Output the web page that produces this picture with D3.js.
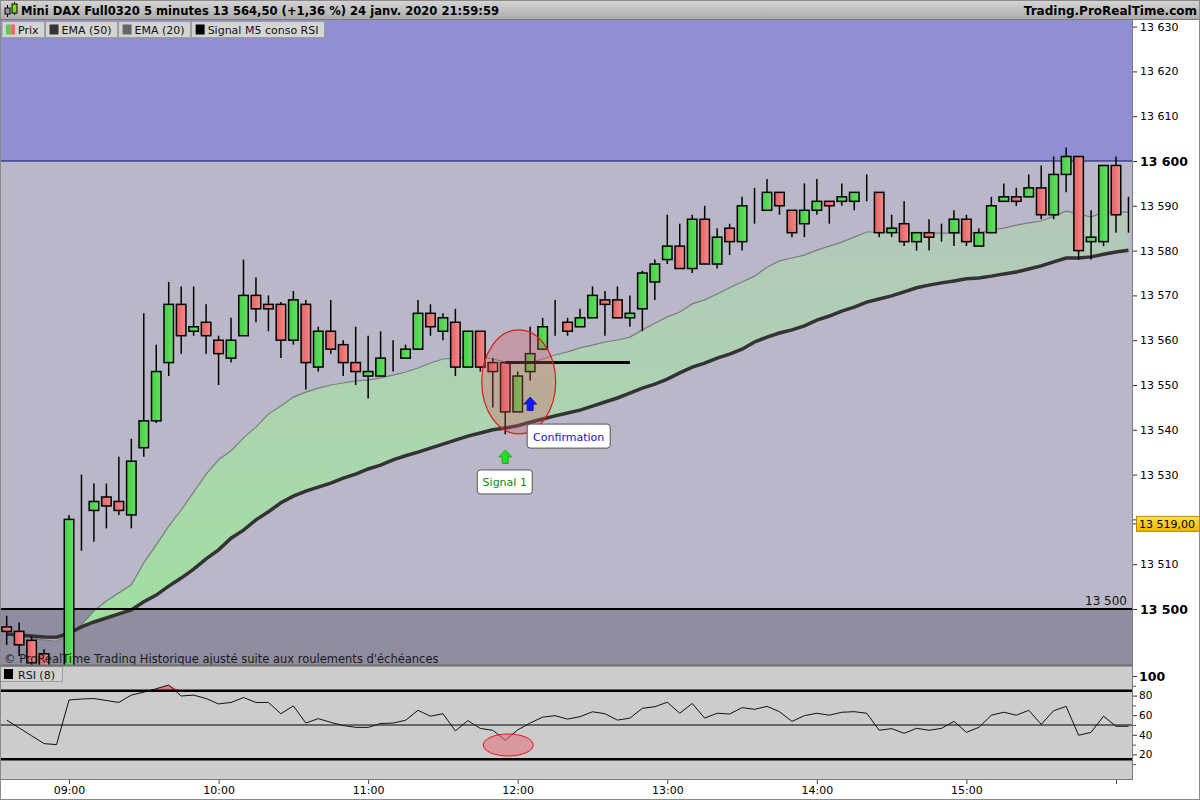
<!DOCTYPE html>
<html>
<head>
<meta charset="utf-8">
<script src="https://cdn.jsdelivr.net/npm/d3@7/dist/d3.min.js"></script>
<style>
  body { margin: 0; background: #fff; }
  svg { display: block; font-family: "DejaVu Sans", sans-serif; }
</style>
</head>
<body>
<div class="chart"></div>
<script>
// Data (5 minute candles, 08:35 -> 16:05)
//= ================================
var firstCandle = new Date(2020, 0, 24, 8, 35);
var lastCandle = new Date(2020, 0, 24, 16, 5);

var opens = [13496, 13495, 13493, 13490, 13486, 13480, 13520, 13522, 13525, 13524,
  13521, 13536, 13542, 13555, 13568, 13562, 13564, 13560, 13556, 13561,
  13570, 13568, 13568, 13560, 13568, 13554, 13562, 13559, 13555, 13552,
  13552, 13556, 13556, 13558, 13566, 13562, 13564, 13554, 13562, 13555,
  13555, 13544, 13553, 13558, 13565, 13564, 13563, 13565, 13569, 13569,
  13565, 13567, 13573, 13578, 13581, 13576, 13587, 13577, 13585, 13582,
  13589, 13589, 13593, 13589, 13586, 13589, 13591, 13591, 13591, 13592,
  13593, 13584, 13586, 13582, 13584, 13584, 13584, 13587, 13581, 13584,
  13591, 13592, 13592, 13594, 13588, 13597, 13601, 13582, 13582, 13599, 13588];
var highs = [13498.5, 13497, 13494, 13491, 13487, 13521, 13530, 13528, 13528, 13534,
  13538, 13566, 13559, 13573, 13572, 13572, 13568, 13561, 13565, 13578,
  13574, 13570, 13568.5, 13571, 13569, 13563, 13569, 13560, 13563, 13561,
  13562, 13560, 13559, 13569, 13568, 13566, 13567, 13562, 13562, 13556,
  13555, 13553, 13563, 13565, 13569, 13565, 13567, 13572, 13571, 13572,
  13570, 13575.5, 13578, 13588, 13586, 13588, 13590, 13585, 13586, 13592,
  13594, 13596, 13593, 13589, 13595, 13596, 13591, 13595, 13593, 13597,
  13593, 13588, 13591, 13584, 13587, 13586, 13589, 13588, 13585, 13592,
  13595, 13594, 13597, 13599, 13601, 13603, 13601, 13589, 13599, 13601, 13592];
var lows = [13492, 13489.5, 13486, 13484, 13478, 13476, 13513, 13515, 13518, 13521,
  13518, 13534, 13541.5, 13552, 13557, 13561, 13557, 13550, 13555, 13561,
  13564, 13562, 13556, 13559, 13549, 13553, 13557, 13552, 13550, 13547,
  13552, 13553, 13556, 13558, 13561, 13560, 13552, 13554, 13553, 13545,
  13539, 13544, 13551, 13558, 13561, 13561, 13563, 13565, 13561, 13565,
  13563, 13562, 13569, 13577, 13576, 13575, 13577, 13576, 13579, 13580,
  13586, 13589, 13588, 13583, 13583, 13588, 13586, 13590, 13589, 13591,
  13583, 13583, 13581, 13580, 13580, 13582, 13581, 13581, 13581, 13584,
  13591, 13590, 13592, 13587, 13587, 13593, 13578, 13578, 13581, 13584, 13584];
var closes = [13495, 13492, 13488, 13486, 13480, 13520, 13520, 13524, 13523, 13522,
  13533, 13542, 13553, 13568, 13561, 13563, 13561, 13557, 13560, 13570,
  13567, 13567, 13560, 13569, 13555, 13562, 13558, 13555, 13553, 13553,
  13556, 13556, 13558, 13566, 13563, 13565, 13554, 13562, 13554, 13553,
  13544, 13552, 13557, 13563, 13565, 13562, 13565, 13570, 13568, 13565,
  13566, 13575, 13577, 13581, 13576, 13587, 13577, 13583, 13582, 13590,
  13589, 13593, 13590, 13584, 13589, 13591, 13590, 13592, 13593, 13592,
  13584, 13585, 13582, 13584, 13583, 13584, 13587, 13582, 13584, 13590,
  13592, 13591, 13594, 13588, 13597, 13601, 13580, 13583, 13599, 13588, 13588];

var ema50 = [13494.4, 13494.2, 13494.0, 13493.75, 13493.7, 13494.6, 13496.0, 13497.1, 13498.0, 13498.9,
  13499.8, 13501.6, 13503.1, 13505.1, 13506.9, 13508.9, 13511.2, 13513.2, 13515.8, 13517.6,
  13519.9, 13521.7, 13523.7, 13525.2, 13526.3, 13527.2, 13528.1, 13529.2, 13530.1, 13531.25,
  13532.1, 13533.3, 13534.2, 13535.0, 13535.9, 13536.8, 13537.7, 13538.6, 13539.3, 13540.0,
  13540.4, 13540.9, 13541.7, 13542.4, 13543.1, 13543.75, 13544.4, 13545.3, 13546.2, 13547.1,
  13548.2, 13549.3, 13550.2, 13551.3, 13552.7, 13554.0, 13554.9, 13556.0, 13556.9, 13558.0,
  13559.6, 13560.7, 13561.6, 13562.3, 13563.2, 13564.5, 13565.4, 13566.5, 13567.4, 13568.5,
  13569.2, 13569.9, 13570.8, 13571.7, 13572.3, 13572.8, 13573.2, 13573.7, 13573.9, 13574.3,
  13574.8, 13575.2, 13575.9, 13576.6, 13577.5, 13578.35, 13578.35, 13578.6, 13579.2, 13579.7, 13580.1];
var ema20 = [13494.6, 13494.2, 13493.5, 13493.1, 13492.8, 13494.4, 13496.4, 13499.6, 13501.8, 13503.6,
  13505.4, 13510.3, 13514.3, 13518.5, 13522.1, 13526.1, 13530.1, 13533.3, 13535.3, 13538.2,
  13540.6, 13543.5, 13545.3, 13547.3, 13548.4, 13549.3, 13550.0, 13550.45, 13550.9, 13551.1,
  13551.6, 13552.2, 13552.9, 13553.8, 13554.9, 13555.8, 13556.0, 13556.25, 13556.25, 13555.8,
  13555.1, 13554.9, 13554.9, 13555.8, 13556.7, 13557.4, 13558.3, 13558.9, 13559.6, 13560.05,
  13560.7, 13562.3, 13563.8, 13565.2, 13566.3, 13568.1, 13569.0, 13570.3, 13571.7, 13573.0,
  13574.3, 13576.3, 13577.7, 13578.35, 13579.0, 13580.1, 13581.0, 13581.9, 13583.0, 13584.15,
  13584.15, 13584.15, 13583.9, 13583.9, 13583.9, 13583.9, 13583.9, 13583.9, 13583.9, 13584.6,
  13585.0, 13585.7, 13586.2, 13586.6, 13587.7, 13588.8, 13588.2, 13587.5, 13588.6, 13588.6, 13588.6];
var rsi = [55, 47, 39, 31, 30, 75.5, 76.5, 77, 75, 73,
  80.5, 83.5, 87, 90.8, 79.6, 80.5, 77, 71.5, 73, 78,
  73, 73, 61.5, 69.5, 52, 56.5, 52.7, 49.5, 47.6, 47.6,
  51.5, 52, 54.8, 65, 59, 61.5, 44, 54.5, 46.5, 44.6,
  34.5, 45, 52, 58, 59.5, 56, 58.5, 63.5, 61.5, 55,
  57, 67, 68.7, 73.2, 62, 72, 57, 62, 61.2, 67.7,
  66, 69, 63.6, 53.7, 59.5, 62, 60, 63, 63.6, 62,
  44.6, 46.3, 41.5, 46.6, 44.6, 46.6, 53.7, 42.5, 47.6, 60,
  63, 60, 65, 50.7, 64.6, 69, 39.5, 42.5, 59, 48.7, 48.7];

var priceTicks = [13500, 13510, 13520, 13530, 13540, 13550, 13560, 13570, 13580, 13590, 13600, 13610, 13620, 13630];
var boldPrices = [13500, 13600];
var hiddenPriceLabel = 13520;           // sits under the last-price tag
var rsiTicks = [20, 40, 60, 80, 100];
var rsiLevels = [15, 50, 85];
var lastPrice = 13519;
var signalLevel = 13555;
var signalFrom = 40, signalTo = 50;     // candle indices (11:55 -> 12:45) of the black signal line
var signalCandle = 40, confirmCandle = 42;
var legendItems = ["Prix", "EMA (50)", "EMA (20)", "Signal M5 conso RSI"];
var legendColors = [null, "#333", "#666", "#000"];

var titleText = "Mini DAX Full0320 5 minutes 13 564,50 (+1,36 %) 24 janv. 2020 21:59:59";
var copyrightText = "\u00a9 ProRealTime Trading Historique ajust\u00e9 suite aux roulements d'\u00e9ch\u00e9ances";

// Step 0: Set up the chart
//= ================================
var svgWidth = 1200;
var svgHeight = 800;
var plotRight = 1132;
var mainTop = 20, mainBottom = 665;
var rsiTop = 666, rsiBottom = 779;

var times = d3.timeMinute.every(5).range(firstCandle, d3.timeMinute.offset(lastCandle, 1));
var candles = times.map(function(t, i) {
  return { t: t, o: opens[i], h: highs[i], l: lows[i], c: closes[i], e50: ema50[i], e20: ema20[i], rsi: rsi[i] };
});

var fr = d3.formatLocale({ decimal: ",", thousands: " ", grouping: [3], currency: ["", ""] });
var fmtPrice = fr.format(",");
var fmtLast = fr.format(",.2f");

var x = d3.scaleTime()
  .domain([new Date(2020, 0, 24, 9, 0), new Date(2020, 0, 24, 16, 0)])
  .range([69, 1116]);
var y = d3.scaleLinear().domain([13500, 13600]).range([609, 161]);
var yRsi = d3.scaleLinear().domain([0, 100]).range([774, 676]);

var svg = d3.select(".chart")
  .append("svg")
  .attr("width", svgWidth)
  .attr("height", svgHeight);

var defs = svg.append("defs");

function grad(id, stops, x2, y2) {
  var g = defs.append("linearGradient").attr("id", id)
    .attr("x1", 0).attr("y1", 0).attr("x2", x2).attr("y2", y2);
  stops.forEach(function(s) {
    g.append("stop").attr("offset", s[0]).attr("stop-color", s[1]);
  });
}
grad("hdr", [[0, "#d6d6d6"], [1, "#a9a9a9"]], 0, 1);
grad("gBody", [[0, "#44cf44"], [1, "#66e066"]], 1, 0);
grad("rBody", [[0, "#e46262"], [1, "#f28c8c"]], 1, 0);
grad("gold", [[0, "#ffe14a"], [1, "#f0b400"]], 0, 1);
defs.append("linearGradient").attr("id", "band")
  .attr("gradientUnits", "userSpaceOnUse")
  .attr("x1", 0).attr("y1", 640).attr("x2", 0).attr("y2", 220)
  .selectAll("stop")
  .data([[0, "#9ee09e"], [0.45, "#aad6ae"], [1, "#b4c8ba"]])
  .enter().append("stop")
  .attr("offset", function(d) { return d[0]; })
  .attr("stop-color", function(d) { return d[1]; });

defs.append("clipPath").attr("id", "mainClip")
  .append("rect").attr("x", 0).attr("y", mainTop).attr("width", plotRight).attr("height", mainBottom - mainTop);
defs.append("clipPath").attr("id", "rsiClip")
  .append("rect").attr("x", 0).attr("y", rsiTop).attr("width", plotRight).attr("height", rsiBottom - rsiTop);

// white page, header bar
svg.append("rect").attr("width", svgWidth).attr("height", svgHeight).attr("fill", "#fff");
svg.append("rect").attr("width", svgWidth).attr("height", 20).attr("fill", "url(#hdr)");
svg.append("line").attr("x1", 0).attr("x2", svgWidth).attr("y1", 19.5).attr("y2", 19.5).attr("stroke", "#7a7a7a");

// header icon
var icon = svg.append("g");
icon.append("line").attr("x1", 7.5).attr("x2", 7.5).attr("y1", 5).attr("y2", 17).attr("stroke", "#000");
icon.append("rect").attr("x", 5).attr("y", 8).attr("width", 5).attr("height", 6).attr("fill", "#999").attr("stroke", "#000");
icon.append("line").attr("x1", 14.5).attr("x2", 14.5).attr("y1", 2).attr("y2", 15).attr("stroke", "#000");
icon.append("rect").attr("x", 12).attr("y", 4).attr("width", 5).attr("height", 9).attr("fill", "#7ce000").attr("stroke", "#000");

svg.append("text").attr("x", 21).attr("y", 14.5)
  .style("font-size", "12px").style("font-weight", "bold").attr("fill", "#000")
  .attr("textLength", 478).attr("lengthAdjust", "spacingAndGlyphs")
  .text(titleText);
svg.append("text").attr("x", 1197).attr("y", 14.5).attr("text-anchor", "end")
  .style("font-size", "12px").style("font-weight", "bold").attr("fill", "#000")
  .text("Trading.ProRealTime.com");

// Step 1: main price panel
//= ================================
var main = svg.append("g").attr("clip-path", "url(#mainClip)");

main.append("rect").attr("x", 0).attr("y", mainTop).attr("width", plotRight).attr("height", y(13600) - mainTop).attr("fill", "#8f8fd1");
main.append("rect").attr("x", 0).attr("y", y(13600)).attr("width", plotRight).attr("height", y(13500) - y(13600)).attr("fill", "#b9b8c9");
main.append("rect").attr("x", 0).attr("y", y(13500)).attr("width", plotRight).attr("height", mainBottom - y(13500)).attr("fill", "#8f8d9f");

// band between the two averages
main.append("path").datum(candles)
  .attr("fill", "url(#band)")
  .attr("d", d3.area()
    .x(function(d) { return x(d.t); })
    .y0(function(d) { return y(d.e50); })
    .y1(function(d) { return y(Math.max(d.e20, d.e50)); }));
main.append("path").datum(candles)
  .attr("fill", "#bfa3ad")
  .attr("d", d3.area()
    .x(function(d) { return x(d.t); })
    .y0(function(d) { return y(d.e50); })
    .y1(function(d) { return y(Math.min(d.e20, d.e50)); }));

main.append("path").datum(candles)
  .attr("fill", "none").attr("stroke", "#7c7c7c").attr("stroke-width", 1.2)
  .attr("d", d3.line().x(function(d) { return x(d.t); }).y(function(d) { return y(d.e20); }));
main.append("path").datum(candles)
  .attr("fill", "none").attr("stroke", "#333").attr("stroke-width", 3.5)
  .attr("d", d3.line().x(function(d) { return x(d.t); }).y(function(d) { return y(d.e50); }));

// reference levels
main.append("line").attr("x1", 0).attr("x2", plotRight).attr("y1", y(13600)).attr("y2", y(13600))
  .attr("stroke", "#101070").attr("stroke-width", 1);
main.append("line").attr("x1", 0).attr("x2", plotRight).attr("y1", y(13500)).attr("y2", y(13500))
  .attr("stroke", "#000").attr("stroke-width", 2.2);
main.append("text").attr("x", 1127).attr("y", y(13500) - 4).attr("text-anchor", "end")
  .style("font-size", "12px").attr("fill", "#111").text(fmtPrice(13500));

// candles
var candle = main.selectAll(".candle").data(candles).enter().append("g").attr("class", "candle");
candle.append("line")
  .attr("x1", function(d) { return x(d.t); })
  .attr("x2", function(d) { return x(d.t); })
  .attr("y1", function(d) { return y(d.h); })
  .attr("y2", function(d) { return y(d.l); })
  .attr("stroke", "#000").attr("stroke-width", 1.5);
candle.append("rect")
  .attr("x", function(d) { return x(d.t) - 4.75; })
  .attr("width", 9.5)
  .attr("y", function(d) { return y(Math.max(d.o, d.c)); })
  .attr("height", function(d) { return Math.abs(y(d.o) - y(d.c)); })
  .attr("fill", function(d) { return d.c > d.o ? "url(#gBody)" : "url(#rBody)"; })
  .attr("stroke", "#000").attr("stroke-width", 1.5);

// black signal line
main.append("line")
  .attr("x1", x(times[signalFrom])).attr("x2", x(times[signalTo]))
  .attr("y1", y(signalLevel)).attr("y2", y(signalLevel))
  .attr("stroke", "#000").attr("stroke-width", 3);

// red highlight ellipse
main.append("ellipse")
  .attr("cx", x(times[signalCandle + 1]) + 1).attr("cy", y(13550.7))
  .attr("rx", 37).attr("ry", 52)
  .attr("fill", "rgba(214,86,96,0.32)").attr("stroke", "#e01818").attr("stroke-width", 1.2);

function upArrow(cx, tip) {
  return "M" + cx + "," + tip + "l6.5,7h-3.5v6.5h-6v-6.5h-3.5z";
}
main.append("path").attr("d", upArrow(x(times[signalCandle]), y(13535.5)))
  .attr("fill", "#22e022").attr("stroke", "#119a11").attr("stroke-width", 0.8);
main.append("path").attr("d", upArrow(x(times[confirmCandle]), y(13547.3)))
  .attr("fill", "#1818ff").attr("stroke", "#0a0aa0").attr("stroke-width", 0.8);

function noteBox(left, top, w, label, color) {
  main.append("rect").attr("x", left).attr("y", top).attr("width", w).attr("height", 24)
    .attr("rx", 3).attr("fill", "#fff").attr("stroke", "#555").attr("stroke-width", 1);
  main.append("text").attr("x", left + w / 2).attr("y", top + 16.5).attr("text-anchor", "middle")
    .style("font-size", "11px").attr("fill", color).text(label);
}
noteBox(x(times[signalCandle]) - 28, y(13535.5) + 20, 55, "Signal 1", "#0a8a0a");
noteBox(x(times[confirmCandle]) - 3, y(13547.3) + 27, 83, "Confirmation", "#1010e0");

main.append("text").attr("x", 4).attr("y", 663)
  .style("font-size", "11.5px").attr("fill", "#1a1a1a").text(copyrightText);

// legend row
var lx = 2;
legendItems.forEach(function(name, i) {
  var g = svg.append("g");
  var t = g.append("text").attr("x", lx + 16).attr("y", 34).style("font-size", "11px").attr("fill", "#111").text(name);
  var w = t.node().getComputedTextLength() + 22;
  g.insert("rect", "text").attr("x", lx).attr("y", 21.5).attr("width", w).attr("height", 16)
    .attr("fill", "#d4d4d4").attr("stroke", "#9c9c9c");
  if (legendColors[i]) {
    g.append("rect").attr("x", lx + 4).attr("y", 24.5).attr("width", 9).attr("height", 10).attr("fill", legendColors[i]);
  } else {
    g.append("rect").attr("x", lx + 4).attr("y", 24.5).attr("width", 4.5).attr("height", 10).attr("fill", "#4fd24f");
    g.append("rect").attr("x", lx + 8.5).attr("y", 24.5).attr("width", 4.5).attr("height", 10).attr("fill", "#ea6a6a");
  }
  lx += w + 1;
});

// Step 2: RSI panel
//= ================================
var rsiG = svg.append("g").attr("clip-path", "url(#rsiClip)");
rsiG.append("rect").attr("x", 0).attr("y", rsiTop).attr("width", plotRight).attr("height", rsiBottom - rsiTop).attr("fill", "#cccccc");

rsiG.append("path").datum(candles)
  .attr("fill", "#e07880")
  .attr("d", d3.area()
    .x(function(d) { return x(d.t); })
    .y0(yRsi(85))
    .y1(function(d) { return yRsi(Math.max(d.rsi, 85)); }));

rsiLevels.forEach(function(v) {
  rsiG.append("line").attr("x1", 0).attr("x2", plotRight).attr("y1", yRsi(v)).attr("y2", yRsi(v))
    .attr("stroke", "#000").attr("stroke-width", v === 50 ? 1 : 2.6);
});

rsiG.append("path").datum(candles)
  .attr("fill", "none").attr("stroke", "#111").attr("stroke-width", 1)
  .attr("d", d3.line().x(function(d) { return x(d.t); }).y(function(d) { return yRsi(d.rsi); }));

rsiG.append("ellipse")
  .attr("cx", x(times[signalCandle]) + 3).attr("cy", yRsi(29.6))
  .attr("rx", 25).attr("ry", 11)
  .attr("fill", "rgba(228,110,120,0.55)").attr("stroke", "#e01818").attr("stroke-width", 1);

var rl = svg.append("g");
rl.append("rect").attr("x", 0.5).attr("y", 666.5).attr("width", 62).attr("height", 15).attr("fill", "#d0d0d0").attr("stroke", "#9c9c9c");
rl.append("rect").attr("x", 4).attr("y", 669).attr("width", 9).attr("height", 10).attr("fill", "#000");
rl.append("text").attr("x", 18).attr("y", 678.5).style("font-size", "11px").attr("fill", "#111").text("RSI (8)");

// panel separators
svg.append("line").attr("x1", 0).attr("x2", plotRight).attr("y1", 665.5).attr("y2", 665.5).attr("stroke", "#6e6e6e").attr("stroke-width", 2);
svg.append("line").attr("x1", 0.5).attr("x2", 0.5).attr("y1", 20).attr("y2", rsiBottom).attr("stroke", "#808080");
svg.append("line").attr("x1", plotRight + 0.5).attr("x2", plotRight + 0.5).attr("y1", 20).attr("y2", rsiBottom).attr("stroke", "#7a7a7a");
svg.append("line").attr("x1", 0).attr("x2", plotRight + 1).attr("y1", rsiBottom + 0.5).attr("y2", rsiBottom + 0.5).attr("stroke", "#7a7a7a");

// Step 3: axes
//= ================================
var priceAxis = svg.append("g")
  .attr("transform", "translate(" + (plotRight + 1) + ",0)")
  .call(d3.axisRight(y).tickValues(priceTicks).tickSize(4).tickPadding(3)
    .tickFormat(function(d) { return d === hiddenPriceLabel ? "" : fmtPrice(d); }));
priceAxis.select(".domain").remove();
priceAxis.selectAll("text")
  .style("font-family", "DejaVu Sans, sans-serif")
  .style("font-size", function(d) { return boldPrices.indexOf(d) >= 0 ? "12.5px" : "11px"; })
  .style("font-weight", function(d) { return boldPrices.indexOf(d) >= 0 ? "bold" : "normal"; })
  .attr("fill", "#000");
priceAxis.selectAll("line").attr("stroke", "#333");

// last price tag
var tag = svg.append("g");
tag.append("line").attr("x1", plotRight + 1).attr("x2", plotRight + 4).attr("y1", y(lastPrice)).attr("y2", y(lastPrice)).attr("stroke", "#333");
tag.append("rect").attr("x", plotRight + 4.5).attr("y", y(lastPrice) - 7.5).attr("width", 64).attr("height", 15)
  .attr("fill", "url(#gold)").attr("stroke", "#b08a00");
tag.append("text").attr("x", plotRight + 7).attr("y", y(lastPrice) + 4).style("font-size", "11px").attr("fill", "#000")
  .text(fmtLast(lastPrice));

var rsiAxis = svg.append("g")
  .attr("transform", "translate(" + (plotRight + 1) + ",0)")
  .call(d3.axisRight(yRsi).tickValues(rsiTicks).tickSize(4).tickPadding(2).tickFormat(d3.format("d")));
rsiAxis.select(".domain").remove();
rsiAxis.selectAll("text")
  .style("font-family", "DejaVu Sans, sans-serif")
  .style("font-size", function(d) { return d === 100 ? "12.5px" : "10.5px"; })
  .style("font-weight", function(d) { return d === 100 ? "bold" : "normal"; })
  .attr("fill", "#000");
rsiAxis.selectAll("line").attr("stroke", "#333");
svg.append("g").attr("transform", "translate(" + (plotRight + 1) + ",0)")
  .call(d3.axisRight(yRsi).tickValues([10, 30, 50, 70, 90]).tickSize(3).tickFormat(""))
  .call(function(g) { g.select(".domain").remove(); g.selectAll("line").attr("stroke", "#555"); });

var hourTicks = d3.timeHour.range(new Date(2020, 0, 24, 9, 0), new Date(2020, 0, 24, 16, 1));
var timeAxis = svg.append("g")
  .attr("transform", "translate(0," + (rsiBottom + 1) + ")")
  .call(d3.axisBottom(x).tickValues(hourTicks).tickSize(4).tickPadding(2)
    .tickFormat(function(d) { return d.getHours() < 16 ? d3.timeFormat("%H:%M")(d) : ""; }));
timeAxis.select(".domain").remove();
timeAxis.selectAll("text").style("font-family", "DejaVu Sans, sans-serif").style("font-size", "11px").attr("fill", "#000");
timeAxis.selectAll("line").attr("stroke", "#444");

// outer frame
svg.append("rect").attr("x", 0.5).attr("y", 0.5).attr("width", svgWidth - 1).attr("height", svgHeight - 1)
  .attr("fill", "none").attr("stroke", "#8a8a8a");
</script>
</body>
</html>
